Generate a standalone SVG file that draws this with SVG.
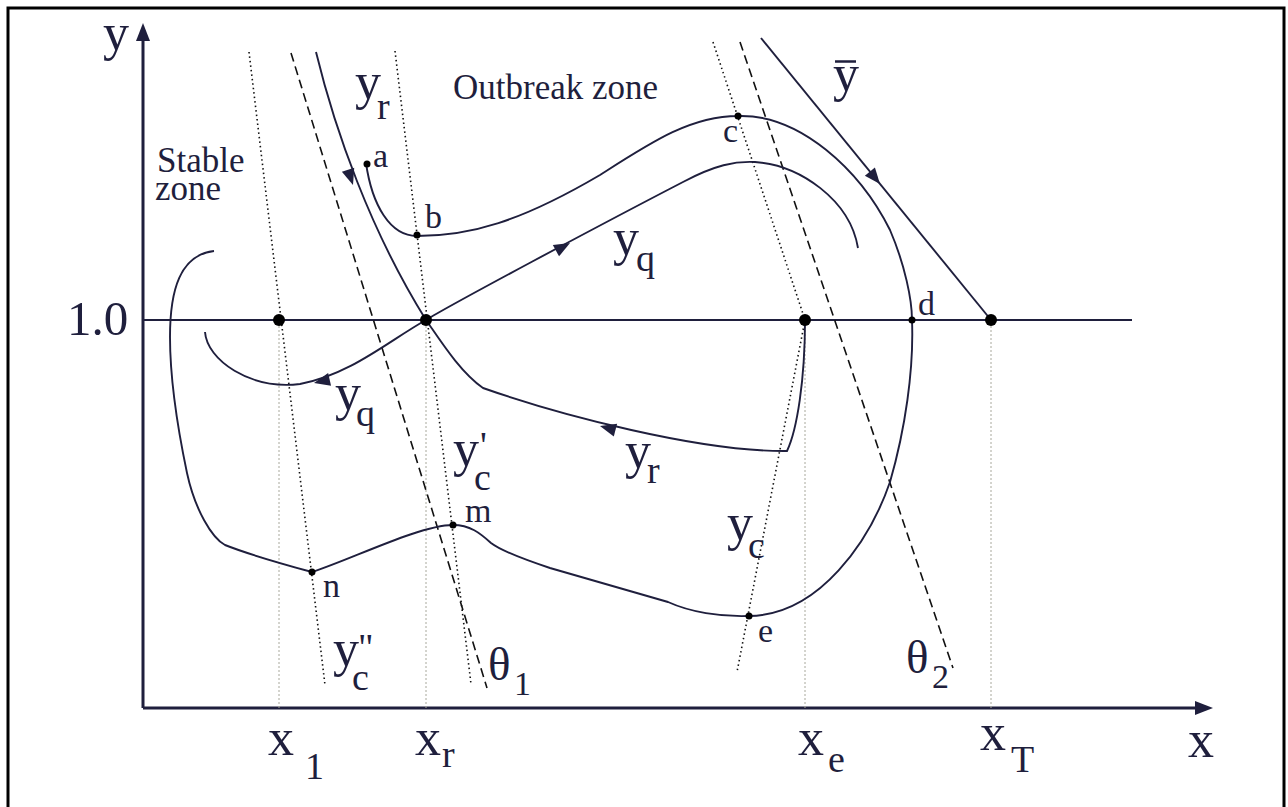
<svg xmlns="http://www.w3.org/2000/svg" width="1288" height="807" viewBox="0 0 1288 807">
<style>
.c{fill:none;stroke:#1f1f3d;stroke-width:1.9}
.ax{fill:none;stroke:#1f1f3d;stroke-width:3}
.dot{fill:none;stroke:#111;stroke-width:1.6;stroke-dasharray:1.5 3}
.dash{fill:none;stroke:#111;stroke-width:1.6;stroke-dasharray:9 5}
.gv{fill:none;stroke:#a8a89c;stroke-width:1;stroke-dasharray:2 2}
text{font-family:"Liberation Serif","Times New Roman",serif;fill:#1f1f3d}
.L{font-size:52px}
.S{font-size:38px}
.P{font-size:34px}
.Z{font-size:35px}
.big{fill:#000}
.sm{fill:#000}
</style>
<defs>
<path id="ah" d="M0,0 L-16,-6.5 L-16,6.5 Z" fill="#1f1f3d"/>
</defs>
<rect x="8" y="8" width="1276" height="820" fill="#fff" stroke="#000" stroke-width="3"/>

<g id="axes">
<path class="ax" d="M143,708 L143,38"/>
<path d="M143,23 L136,41 L150,41 Z" fill="#1f1f3d"/>
<path class="ax" d="M143,708 L1198,708"/>
<path d="M1213,708 L1195,701 L1195,715 Z" fill="#1f1f3d"/>
<path d="M143,320 L1132,320" fill="none" stroke="#1f1f3d" stroke-width="2"/>
</g>

<g id="guides">
<path class="gv" d="M279,326 L279,708 M426,326 L426,708 M805,326 L805,708 M991,326 L991,708"/>
<path class="dot" d="M249,52 L325,685"/>
<path class="dot" d="M395,51 L471,684"/>
<path class="dash" d="M291,53 L487,688"/>
<path class="dot" d="M713,42 L805,320 L737,672"/>
<path class="dash" d="M740,42 L953,668"/>
</g>

<g id="connectors">
<path id="yr" class="c" d="M316,52 C335,130 370,230 426,320 C440,340 460,372 483,388 C560,415 700,452 787,451 C797,430 805,380 805,320"/>
<path id="yq-up" class="c" d="M426,320 C450,305 600,225 683,182 C715,165 735,161 755,162 C800,165 850,200 858,248"/>
<path id="yq-low" class="c" d="M426,320 C390,340 350,375 300,384 C250,390 207,360 205,332"/>
<path id="loop" class="c" d="M366,163 C372,205 390,236 417,236 C470,236 520,222 600,175 C650,143 690,116 738,116 C800,114 860,170 890,230 C905,265 912,300 912,320 C914,370 905,430 890,482 C870,540 820,615 749,616 C720,617 690,612 668,602 L550,568 C520,558 500,550 491,543 C480,533 470,525 453,525 C420,525 350,560 312,572 C290,566 250,555 225,545 C212,538 195,510 187,473 C178,430 170,380 170,337 C170,290 180,255 214,251"/>
<path id="ybar" class="c" d="M761,38 L991,320"/>
<use href="#ah" transform="translate(353,185) rotate(72)"/>
<use href="#ah" transform="translate(880,184) rotate(50.8)"/>
<use href="#ah" transform="translate(570,243) rotate(-28.6)"/>
<use href="#ah" transform="translate(314,383) rotate(167)"/>
<use href="#ah" transform="translate(600,426) rotate(-165)"/>
</g>

<g id="points">
<circle class="big" cx="279" cy="320" r="6"/>
<circle class="big" cx="426" cy="320" r="6"/>
<circle class="big" cx="805" cy="320" r="6"/>
<circle class="big" cx="991" cy="320" r="6"/>
<circle class="sm" cx="367" cy="164" r="3.5"/>
<circle class="sm" cx="417" cy="235" r="3.5"/>
<circle class="sm" cx="738" cy="116" r="3.5"/>
<circle class="sm" cx="912" cy="320" r="3.5"/>
<circle class="sm" cx="749" cy="616" r="3.5"/>
<circle class="sm" cx="453" cy="525" r="3.5"/>
<circle class="sm" cx="312" cy="572" r="3.5"/>
</g>

<g id="labels">
<text class="L" x="103" y="50">y</text>
<text x="67" y="335" style="font-size:49px">1.0</text>
<text class="Z" x="157" y="172">Stable<tspan x="155" y="200">zone</tspan></text>
<text class="Z" x="453" y="99">Outbreak zone</text>
<text class="L" x="355" y="99">y<tspan class="S" x="377" y="119">r</tspan></text>
<text class="P" x="373" y="167">a</text>
<text class="P" x="425" y="228">b</text>
<text class="P" x="723" y="142">c</text>
<text class="P" x="918" y="315">d</text>
<text class="L" x="833" y="91">y</text>
<path d="M835,61.5 L856,61.5" stroke="#1f1f3d" stroke-width="2.5"/>
<text class="L" x="613" y="255">y<tspan class="S" x="636" y="271">q</tspan></text>
<text class="L" x="335" y="410">y<tspan class="S" x="356" y="426">q</tspan></text>
<text class="L" x="625" y="468">y<tspan class="S" x="647" y="483">r</tspan></text>
<text class="L" x="453" y="466">y<tspan class="S" x="474" y="490">c</tspan><tspan class="S" x="480" y="458">'</tspan></text>
<text class="P" x="465" y="522">m</text>
<text class="P" x="323" y="597">n</text>
<text class="P" x="758" y="642">e</text>
<text class="L" x="727" y="540">y<tspan class="S" x="748" y="558">c</tspan></text>
<text class="L" x="333" y="666">y<tspan class="S" x="352" y="690">c</tspan><tspan class="S" x="358" y="660">"</tspan></text>
<text x="488" y="680" style="font-size:47px">θ<tspan class="P" x="514" y="695">1</tspan></text>
<text x="906" y="673" style="font-size:47px">θ<tspan class="P" x="932" y="688">2</tspan></text>
<text class="L" x="268" y="755">x<tspan class="S" x="305" y="779">1</tspan></text>
<text class="L" x="415" y="755">x<tspan class="S" x="442" y="767">r</tspan></text>
<text class="L" x="798" y="755">x<tspan class="S" x="828" y="772">e</tspan></text>
<text class="L" x="980" y="750">x<tspan class="S" x="1011" y="772">T</tspan></text>
<text class="L" x="1188" y="757">x</text>
</g>
</svg>
